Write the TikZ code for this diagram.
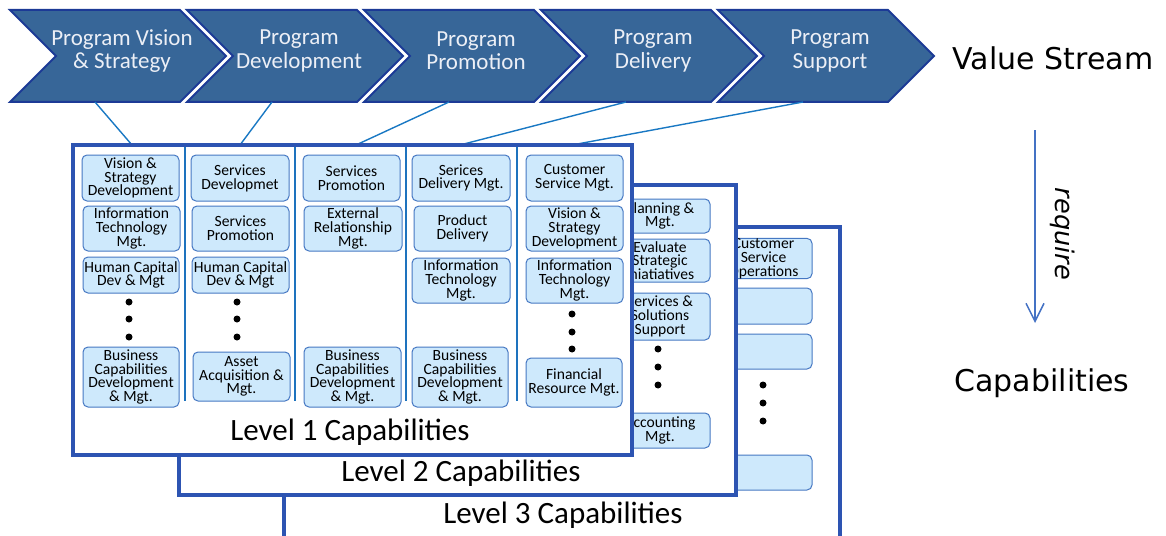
\documentclass[tikz,border=0pt]{standalone}
\usepackage{fontspec}
\setmainfont{Carlito}
\newfontfamily\labelfont{DejaVu Sans}
\usetikzlibrary{arrows.meta}
\definecolor{chevfill}{RGB}{55,102,152}
\definecolor{chevline}{RGB}{28,58,150}
\definecolor{chevtxt}{RGB}{236,239,246}
\definecolor{frameblue}{RGB}{45,84,178}
\definecolor{sepblue}{RGB}{30,115,190}
\definecolor{boxfill}{RGB}{206,233,252}
\definecolor{boxline}{RGB}{70,120,195}
\definecolor{linkblue}{RGB}{25,120,195}
\definecolor{arrowblue}{RGB}{68,114,196}
\tikzset{
  chevron/.style={fill=chevfill, draw=chevline, line width=1pt, line join=miter},
  chevtext/.style={text=chevtxt, align=center, inner sep=0pt, font=\fontsize{11.5}{11.7}\selectfont},
  capbox/.style={draw=boxline, fill=boxfill, line width=0.5pt, rounded corners=2.5pt, align=center, inner sep=0pt, font=\fontsize{7.8}{6.9}\selectfont},
  frame/.style={draw=frameblue, fill=white, line width=1.8pt},
  colsep/.style={draw=sepblue, line width=1.2pt},
  link/.style={draw=linkblue, line width=0.7pt},
  leveltext/.style={inner sep=0pt, font=\fontsize{15.5}{16}\selectfont},
  sidetext/.style={inner sep=0pt, font=\labelfont\fontsize{15}{17}\selectfont},
}
\newcommand{\chev}[3]{%
  \filldraw[chevron] (#2,10) -- ++(170,0) -- ++(46,46) -- ++(-46,46) -- ++(-170,0) -- ++(46,-46) -- cycle;
  \node[chevtext] (#1) at ({#2+112},51) {#3};
  \coordinate (#1-b) at ({#2+85},102);}
\newcommand{\capbox}[6]{\node[capbox, minimum width={(#4-#2)*0.5pt}, minimum height={(#5-#3)*0.5pt}] (#1) at ({(#2+#4)/2},{(#3+#5)/2}) {#6};}
\newcommand{\dotcol}[4]{\foreach \dy in {#2,#3,#4} \fill (#1,\dy) circle (1.75pt);}

\begin{document}
\begin{tikzpicture}[x=0.5pt, y=-0.5pt]
        \clip (0,0) rectangle (1166,535);
        % value stream
        \chev{vs1}{10}{Program Vision\\\& Strategy}
        \chev{vs2}{187}{Program\\Development}
        \chev{vs3}{364}{Program\\Promotion}
        \chev{vs4}{541}{Program\\Delivery}
        \chev{vs5}{718}{Program\\Support}
        \node[sidetext] (vsl) at (1053,58) {Value Stream};

        % level 3
        \filldraw[frame] (284,227) rectangle (840,560);
        \capbox{l3a}{715}{241}{812}{276}{Customer\\Service\\Operations}
        \capbox{l3b}{715}{288}{812}{324}{}
        \capbox{l3c}{715}{334}{812}{369}{}
        \dotcol{763}{385}{403}{421}
        \capbox{l3d}{715}{455}{812}{490}{}
        \node[leveltext] (lv3) at (563,515) {Level 3 Capabilities};

        % level 2
        \filldraw[frame] (179,185) rectangle (736,495);
        \capbox{l2a}{610}{199}{710}{233}{Planning \&\\Mgt.}
        \capbox{l2b}{610}{239}{710}{282}{Evaluate\\Strategic\\Iniatiatives}
        \capbox{l2c}{610}{293}{710}{340}{Services \&\\Solutions\\Support}
        \dotcol{658}{349}{367}{385}
        \capbox{l2d}{610}{413}{710}{448}{Accounting\\Mgt.}
        \node[leveltext] (lv2) at (461,473) {Level 2 Capabilities};

        % links
        \coordinate (c1) at (132,145);
        \coordinate (c2) at (240,145);
        \coordinate (c3) at (356,145);
        \coordinate (c4) at (460,145);
        \coordinate (c5) at (572,145);
        \draw[link] (vs1-b) -- (c1);
        \draw[link] (vs2-b) -- (c2);
        \draw[link] (vs3-b) -- (c3);
        \draw[link] (vs4-b) -- (c4);
        \draw[link] (vs5-b) -- (c5);

        % level 1
        \filldraw[frame] (73,145) rectangle (632,455);
        \foreach \sx in {185,295,406,517} \draw[colsep] (\sx,147) -- (\sx,401);
        % column 1
        \capbox{b11}{82}{155}{179}{201}{Vision \&\\Strategy\\Development}
        \capbox{b12}{83}{206}{180}{251}{Information\\Technology\\Mgt.}
        \capbox{b13}{83}{257}{179}{293}{Human Capital\\Dev \& Mgt}
        \dotcol{129}{302}{319}{337}
        \capbox{b14}{83}{347}{179}{407}{Business\\Capabilities\\Development\\\& Mgt.}
        % column 2
        \capbox{b21}{191}{155}{289}{201}{Services\\Developmet}
        \capbox{b22}{192}{206}{289}{251}{Services\\Promotion}
        \capbox{b23}{192}{257}{289}{293}{Human Capital\\Dev \& Mgt}
        \dotcol{237}{302}{319}{337}
        \capbox{b24}{193}{352}{290}{401}{Asset\\Acquisition \&\\Mgt.}
        % column 3
        \capbox{b31}{303}{155}{400}{201}{Services\\Promotion}
        \capbox{b32}{304}{206}{402}{251}{External\\Relationship\\Mgt.}
        \capbox{b33}{304}{347}{401}{407}{Business\\Capabilities\\Development\\\& Mgt.}
        % column 4
        \capbox{b41}{412}{155}{510}{201}{Serices\\Delivery Mgt.}
        \capbox{b42}{414}{206}{511}{251}{Product\\Delivery}
        \capbox{b43}{412}{258}{510}{303}{Information\\Technology\\Mgt.}
        \capbox{b44}{412}{347}{508}{407}{Business\\Capabilities\\Development\\\& Mgt.}
        % column 5
        \capbox{b51}{526}{155}{623}{201}{Customer\\Service Mgt.}
        \capbox{b52}{526}{206}{623}{251}{Vision \&\\Strategy\\Development}
        \capbox{b53}{526}{258}{623}{303}{Information\\Technology\\Mgt.}
        \dotcol{572}{314}{332}{349}
        \capbox{b54}{526}{358}{622}{407}{Financial\\Resource Mgt.}
        \node[leveltext] (lv1) at (350,432) {Level 1 Capabilities};

        % require
        \coordinate (rq1) at (1035,130);
        \coordinate (rq2) at (1035,323);
        \draw[arrowblue, line width=0.75pt, -{Straight Barb[length=9pt,width=9pt]}] (rq1) -- (rq2);
        \node[inner sep=0pt, rotate=-90, font=\labelfont\itshape\fontsize{12.8}{14}\selectfont] (req) at (1063,234) {require};
        \node[sidetext] (capl) at (1042,383) {Capabilities};
    \end{tikzpicture}
\end{document}
